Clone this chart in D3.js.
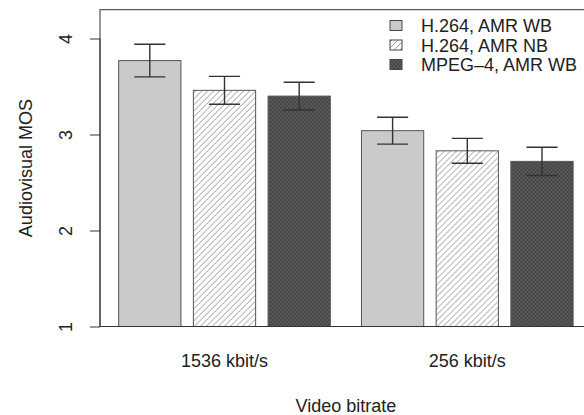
<!DOCTYPE html>
<html><head><meta charset="utf-8">
<script src="https://cdn.jsdelivr.net/npm/d3@7"></script>
<style>body{margin:0;background:#fff}svg{display:block;font-family:"Liberation Sans",Arial,sans-serif}</style>
</head><body><svg id="c" width="584" height="415"></svg>
<script>
const categories = ["1536 kbit/s", "256 kbit/s"];
const series = ["H.264, AMR WB", "H.264, AMR NB", "MPEG\u20134, AMR WB"];
const meansWB = [3.77, 3.04];
const meansNB = [3.46, 2.83];
const meansMPEG = [3.40, 2.72];
const errWB = [0.17, 0.14];
const errNB = [0.145, 0.13];
const errMPEG = [0.145, 0.147];
const yTicks = [1, 2, 3, 4];

const means = [meansWB, meansNB, meansMPEG];
const errs = [errWB, errNB, errMPEG];

const svg = d3.select("#c");
const defs = svg.append("defs");
// hatch
const hp = defs.append("pattern").attr("id","hatch").attr("patternUnits","userSpaceOnUse")
  .attr("width",6).attr("height",6);
hp.append("rect").attr("width",6).attr("height",6).attr("fill","#fff");
hp.append("path").attr("d","M0,6 L6,0 M-1.5,1.5 L1.5,-1.5 M4.5,7.5 L7.5,4.5")
  .attr("stroke","#9a9a9a").attr("stroke-width",1);
// dark crosshatch
const dp = defs.append("pattern").attr("id","dark").attr("patternUnits","userSpaceOnUse")
  .attr("width",4).attr("height",4);
dp.append("rect").attr("width",4).attr("height",4).attr("fill","#444644");
dp.append("path").attr("d","M0,4 L4,0 M0,0 L4,4").attr("stroke","#5e605e").attr("stroke-width",0.8);

const fills = ["#c8cbc8", "url(#hatch)", "url(#dark)"];

const pLeft = 100, pRight = 591.8, pTop = 9.7, pBottom = 326.5;
const x0 = d3.scaleBand().domain(categories).range([pLeft, pRight])
  .paddingInner(0.5/3.9).paddingOuter(0.3/3.9);
const x1 = d3.scaleBand().domain(series).range([0, x0.bandwidth()])
  .paddingInner(0.2/1.2).paddingOuter(0);
const y = d3.scaleLinear().domain([1, 4.3]).range([pBottom, pTop]);

// bars
categories.forEach((c, ci) => {
  const g = svg.append("g").attr("transform", `translate(${x0(c)},0)`);
  series.forEach((s, si) => {
    const v = means[si][ci];
    g.append("rect").attr("x", x1(s)).attr("y", y(v))
      .attr("width", x1.bandwidth()).attr("height", y(1) - y(v))
      .attr("fill", fills[si]).attr("stroke", "#555").attr("stroke-width", 1);
  });
  series.forEach((s, si) => {
    const v = means[si][ci], e = errs[si][ci];
    const cx = x1(s) + x1.bandwidth()/2, hw = x1.bandwidth()/4;
    g.append("path").attr("d",
      `M${cx},${y(v+e)}V${y(v-e)}M${cx-hw},${y(v+e)}H${cx+hw}M${cx-hw},${y(v-e)}H${cx+hw}`)
      .attr("stroke", "#333").attr("stroke-width", 1.4).attr("fill","none");
  });
});

// box
svg.append("rect").attr("x", pLeft).attr("y", pTop).attr("width", pRight-pLeft).attr("height", pBottom-pTop)
  .attr("fill","none").attr("stroke","#333").attr("stroke-width",1);

// y axis
const ya = svg.append("g").attr("transform", `translate(${pLeft},0)`)
  .call(d3.axisLeft(y).tickValues(yTicks).tickSize(10).tickFormat(d3.format("d")));
ya.select(".domain").attr("stroke","#333").attr("d", `M-0,${y(1)}V${y(4)}`);
ya.selectAll(".tick line").attr("stroke","#333");
ya.selectAll(".tick text").attr("font-size",18).attr("fill","#222")
  .attr("text-anchor","middle").attr("x",null).attr("dy",null)
  .attr("transform","translate(-28,0) rotate(-90)");

// x labels
svg.append("g").selectAll("text").data(categories).join("text")
  .attr("x", d => x0(d) + x0.bandwidth()/2).attr("y", 366.5)
  .attr("text-anchor","middle").attr("font-size",18).attr("fill","#222").text(d => d);

svg.append("text").attr("x", (pLeft+pRight)/2).attr("y", 411.5).attr("text-anchor","middle")
  .attr("font-size",18).attr("fill","#222").text("Video bitrate");
svg.append("text").attr("transform", `translate(31.5,${(y(1)+y(4.3))/2}) rotate(-90)`)
  .attr("text-anchor","middle").attr("font-size",18).attr("fill","#222").text("Audiovisual MOS");

// legend
const lg = svg.append("g");
series.forEach((s, i) => {
  const cy = 25.5 + i*19.5;
  lg.append("rect").attr("x", 390).attr("y", cy-5).attr("width", 12).attr("height", 10)
    .attr("fill", fills[i]).attr("stroke","#444").attr("stroke-width",1);
  lg.append("text").attr("x", 421).attr("y", cy + 6.5).attr("font-size",18).attr("fill","#222").text(s);
});
</script></body></html>
